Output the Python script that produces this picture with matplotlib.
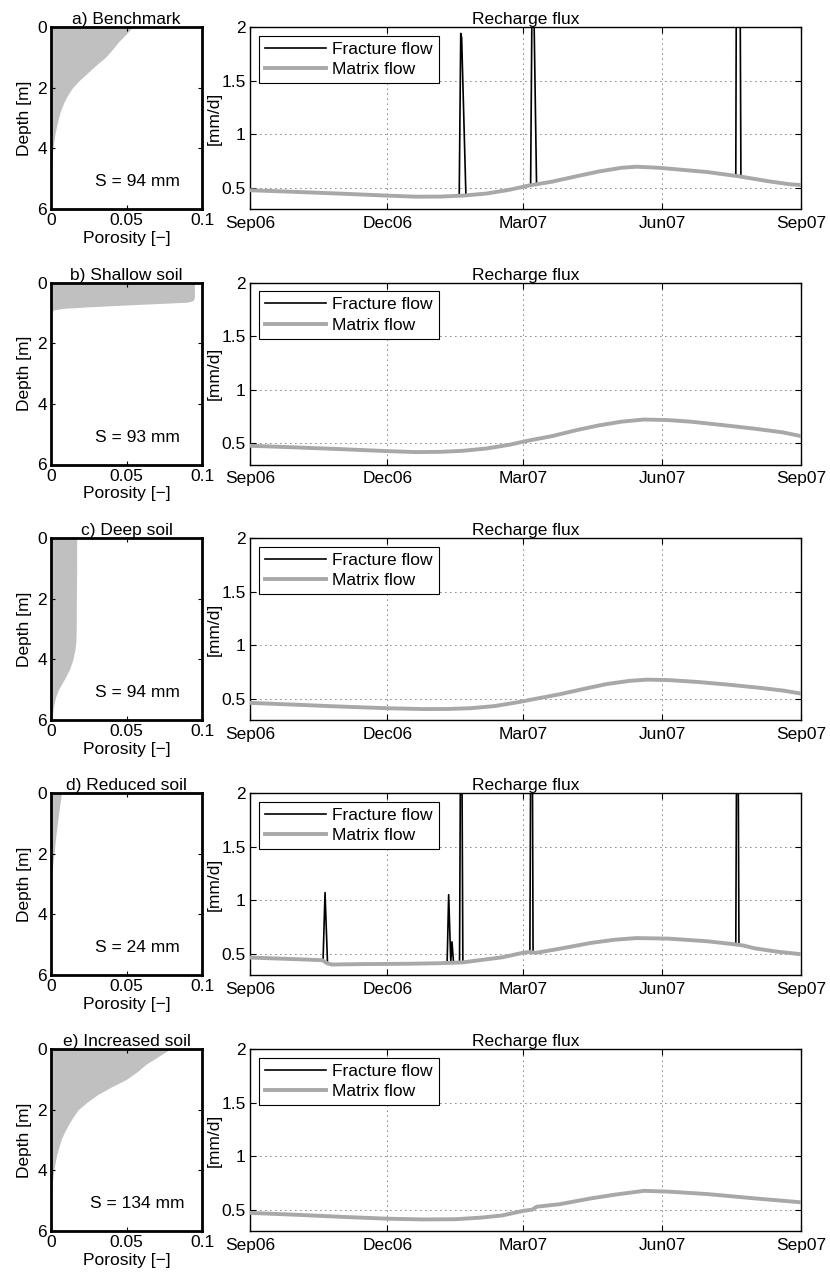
import numpy as np
import pandas as pd
import matplotlib
matplotlib.use('Agg')
import matplotlib.pyplot as plt
import matplotlib.dates as mdates

plt.rcParams['font.family'] = ['Liberation Sans', 'DejaVu Sans']
plt.rcParams['font.size'] = 12.5

W, H = 830, 1284

start = pd.Timestamp('2006-09-01')
tick_dates = ['2006-09-01', '2006-12-01', '2007-03-01', '2007-06-01', '2007-09-01']
tick_labels = ['Sep06', 'Dec06', 'Mar07', 'Jun07', 'Sep07']

titles = ['a) Benchmark', 'b) Shallow soil', 'c) Deep soil', 'd) Reduced soil', 'e) Increased soil']
storage = ['S = 94 mm', 'S = 93 mm', 'S = 94 mm', 'S = 24 mm', 'S = 134 mm']

# porosity profiles (depth [m], porosity [-])
depth_a = [0, 0.25, 0.5, 0.75, 1, 1.25, 1.5, 1.75, 2, 2.25, 2.5, 2.75, 3, 3.5, 4, 4.5, 5, 6]
por_a = [0.054, 0.0495, 0.0445, 0.0405, 0.036, 0.030, 0.0245, 0.019, 0.0143, 0.011, 0.0084,
         0.0064, 0.0049, 0.0027, 0.0013, 0.0005, 0.0, 0.0]
depth_b = [0, 0.5, 0.6, 0.65, 0.7, 0.75, 0.8, 0.85, 0.9, 0.95, 1.0, 6]
por_b = [0.095, 0.095, 0.094, 0.09, 0.068, 0.046, 0.026, 0.009, 0.002, 0.0005, 0.0, 0.0]
depth_c = [0, 1, 2, 3, 3.4, 3.7, 4.0, 4.3, 4.6, 4.8, 5.0, 5.25, 5.6, 6]
por_c = [0.017, 0.017, 0.0168, 0.0167, 0.0165, 0.0158, 0.0145, 0.0125, 0.0095, 0.0072, 0.0049,
         0.003, 0.0015, 0.0005]
depth_d = [0, 0.5, 1, 1.5, 2, 2.5, 3, 6]
por_d = [0.007, 0.0055, 0.0042, 0.003, 0.002, 0.0008, 0.0, 0.0]
depth_e = [0, 0.25, 0.5, 0.75, 1, 1.25, 1.5, 1.75, 2, 2.25, 2.5, 2.75, 3, 3.5, 4, 4.5, 5, 6]
por_e = [0.079, 0.071, 0.063, 0.057, 0.05, 0.04, 0.031, 0.024, 0.018, 0.0145, 0.0115,
         0.0088, 0.0066, 0.0037, 0.0018, 0.0006, 0.0, 0.0]

# matrix flow [mm/d]
mat_a_dates = ['2006-09-01', '2006-10-01', '2006-11-01', '2006-12-01', '2006-12-20', '2007-01-05',
               '2007-01-20', '2007-02-05', '2007-02-20', '2007-03-05', '2007-03-20', '2007-04-05',
               '2007-04-20', '2007-05-05', '2007-05-15', '2007-05-30', '2007-06-15', '2007-07-01',
               '2007-07-22', '2007-08-10', '2007-08-25', '2007-09-01']
mat_a = [0.475, 0.46, 0.443, 0.425, 0.415, 0.416, 0.425, 0.445, 0.48, 0.52, 0.555, 0.605,
         0.65, 0.685, 0.695, 0.685, 0.665, 0.645, 0.605, 0.56, 0.53, 0.525]
mat_b_dates = ['2006-09-01', '2006-10-01', '2006-11-01', '2006-12-01', '2006-12-20', '2007-01-05',
               '2007-01-20', '2007-02-05', '2007-02-20', '2007-03-05', '2007-03-20', '2007-04-05',
               '2007-04-20', '2007-05-05', '2007-05-20', '2007-06-05', '2007-06-20', '2007-07-10',
               '2007-08-01', '2007-08-20', '2007-09-01']
mat_b = [0.475, 0.46, 0.443, 0.425, 0.416, 0.418, 0.428, 0.45, 0.485, 0.525, 0.565, 0.62,
         0.665, 0.7, 0.72, 0.715, 0.7, 0.67, 0.635, 0.6, 0.565]
mat_c_dates = ['2006-09-01', '2006-10-01', '2006-11-01', '2006-12-01', '2006-12-25', '2007-01-10',
               '2007-01-25', '2007-02-10', '2007-02-25', '2007-03-10', '2007-03-25', '2007-04-10',
               '2007-04-25', '2007-05-10', '2007-05-22', '2007-06-05', '2007-06-25', '2007-07-15',
               '2007-08-05', '2007-08-20', '2007-09-01']
mat_c = [0.46, 0.443, 0.425, 0.41, 0.402, 0.403, 0.41, 0.43, 0.465, 0.5, 0.54, 0.59,
         0.635, 0.665, 0.677, 0.673, 0.655, 0.63, 0.6, 0.575, 0.547]
mat_d_dates = ['2006-09-01', '2006-10-01', '2006-10-19', '2006-10-22', '2006-10-25', '2006-11-15',
               '2006-12-15', '2007-01-05', '2007-01-20', '2007-02-01', '2007-02-15', '2007-03-01',
               '2007-03-06', '2007-03-09', '2007-03-25', '2007-04-15', '2007-05-01', '2007-05-15',
               '2007-06-05', '2007-07-01', '2007-07-20', '2007-07-25', '2007-08-01', '2007-08-15',
               '2007-09-01']
mat_d = [0.463, 0.448, 0.438, 0.41, 0.398, 0.402, 0.405, 0.41, 0.418, 0.44, 0.465, 0.508,
         0.515, 0.506, 0.545, 0.6, 0.63, 0.645, 0.64, 0.615, 0.585, 0.575, 0.55, 0.52, 0.494]
mat_e_dates = ['2006-09-01', '2006-10-01', '2006-11-01', '2006-12-01', '2006-12-25', '2007-01-15',
               '2007-02-01', '2007-02-15', '2007-03-01', '2007-03-07', '2007-03-10', '2007-03-25',
               '2007-04-15', '2007-05-01', '2007-05-20', '2007-06-05', '2007-07-01', '2007-08-01',
               '2007-09-01']
mat_e = [0.469, 0.452, 0.432, 0.415, 0.408, 0.41, 0.425, 0.445, 0.488, 0.5, 0.527, 0.55,
         0.605, 0.64, 0.675, 0.668, 0.645, 0.605, 0.568]

# fracture flow spikes [days after 1 Sep 2006], [mm/d]
frac_a_days = [138.6, 139.6, 140.2, 143.0, np.nan, 185.9, 187.0, 187.6, 189.8, np.nan,
               321.8, 322.2, 324.6, 325.2]
frac_a = [0.435, 1.94, 1.9, 0.44, np.nan, 0.53, 2.6, 2.6, 0.545, np.nan,
          0.61, 2.6, 2.6, 0.6]
frac_d_days = [48.4, 49.7, 51.3, np.nan, 130.6, 131.6, 133.0, 133.8, 134.8, np.nan,
               138.8, 139.5, 140.3, 141.0, np.nan, 185.4, 186.0, 187.0, 187.5, np.nan,
               321.8, 322.4, 323.3, 323.9]
frac_d = [0.44, 1.07, 0.43, np.nan, 0.42, 1.05, 0.42, 0.61, 0.42, np.nan,
          0.42, 2.6, 2.6, 0.43, np.nan, 0.52, 2.6, 2.6, 0.53, np.nan,
          0.585, 2.6, 2.6, 0.58]

profiles = [(depth_a, por_a), (depth_b, por_b), (depth_c, por_c), (depth_d, por_d), (depth_e, por_e)]
matrix = [(mat_a_dates, mat_a), (mat_b_dates, mat_b), (mat_c_dates, mat_c),
          (mat_d_dates, mat_d), (mat_e_dates, mat_e)]
fracture = [(frac_a_days, frac_a), ([], []), ([], []), (frac_d_days, frac_d), ([], [])]

tops = [27, 282.5, 538, 793, 1049]
ax_h = 182

t0 = mdates.date2num(start)
ticks = mdates.date2num(pd.to_datetime(tick_dates))

fig = plt.figure(figsize=(W / 100, H / 100), dpi=100)

for i in range(5):
    top = tops[i]
    bottom = 1 - (top + ax_h) / H

    # porosity profile
    axl = fig.add_axes([51 / W, bottom, 151 / W, ax_h / H])
    d, p = profiles[i]
    axl.fill_betweenx(d, 0, p, color='#c0c0c0', lw=0)
    axl.set_xlim(0, 0.1)
    axl.set_ylim(6, 0)
    axl.set_xticks([0, 0.05, 0.1])
    axl.set_xticklabels(['0', '0.05', '0.1'])
    axl.set_yticks([0, 2, 4, 6])
    axl.tick_params(direction='in', top=True, right=True, length=3, pad=3)
    for s in axl.spines.values():
        s.set_linewidth(2)
    axl.set_xlabel('Porosity [\u2212]', labelpad=2)
    axl.set_ylabel('Depth [m]', labelpad=4)
    axl.set_title(titles[i], pad=2, fontsize=12.5)
    axl.text(0.057, 5.1, storage[i], ha='center', va='center')

    # recharge flux
    axr = fig.add_axes([250 / W, bottom, 551 / W, ax_h / H])
    fd, fv = fracture[i]
    axr.plot(t0 + np.array(fd, dtype=float), fv, color='k', lw=1.2, label='Fracture flow', zorder=2)
    md, mv = matrix[i]
    axr.plot(mdates.date2num(pd.to_datetime(md)), mv, color='#a8a8a8', lw=2.8,
             label='Matrix flow', zorder=3)
    axr.set_xlim(ticks[0], ticks[-1])
    axr.set_ylim(0.3, 2)
    axr.set_xticks(ticks)
    axr.set_xticklabels(tick_labels)
    axr.set_yticks([0.5, 1, 1.5, 2])
    axr.set_yticklabels(['0.5', '1', '1.5', '2'])
    axr.grid(True, color='k', lw=0.6, linestyle=(0, (1, 5)))
    axr.tick_params(axis='x', direction='in', top=True, length=4, pad=5)
    axr.tick_params(axis='y', direction='in', right=True, length=4, pad=3)
    for s in axr.spines.values():
        s.set_linewidth(1.0)
    axr.set_ylabel('[mm/d]', labelpad=0)
    axr.set_title('Recharge flux', pad=2, fontsize=12.5)
    leg = axr.legend(loc='upper left', fancybox=False, edgecolor='k', framealpha=1,
                     handlelength=3.5, handletextpad=0.4, labelspacing=0.3, borderpad=0.35,
                     borderaxespad=0.5)
    leg.get_frame().set_linewidth(0.8)

fig.savefig('out.png', dpi=100)
